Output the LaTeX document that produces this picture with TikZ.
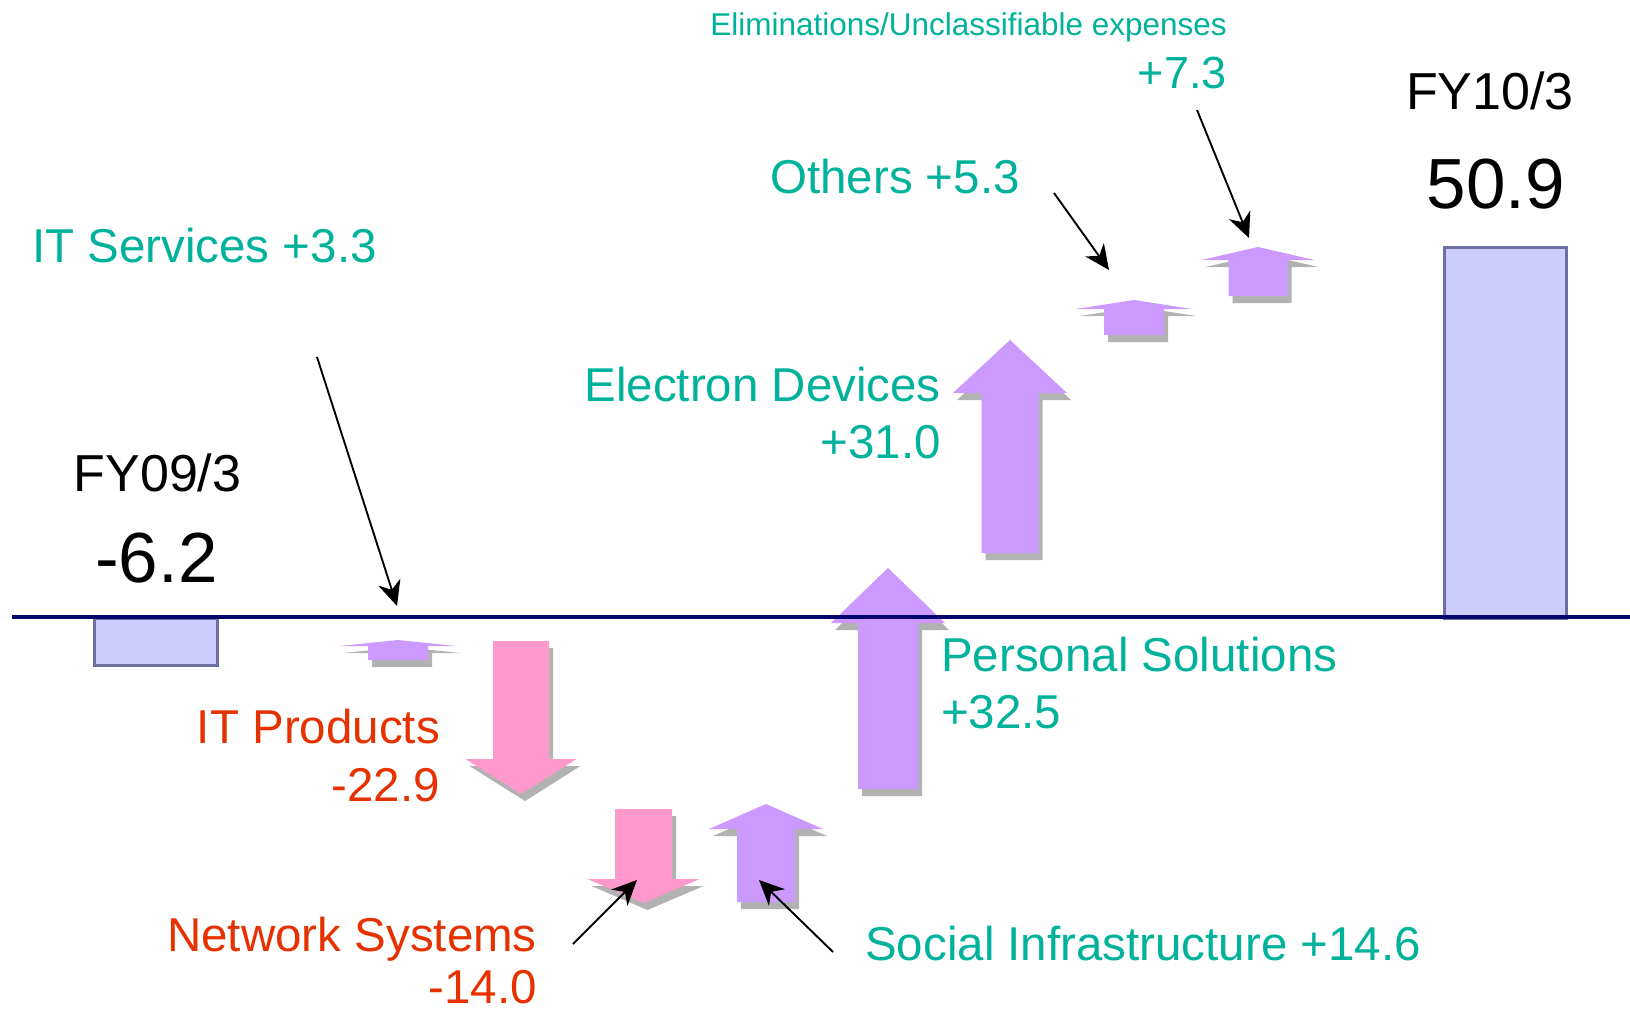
\documentclass[tikz,border=0pt]{standalone}
\usepackage{fontspec}
\setmainfont{Liberation Sans}
\usetikzlibrary{arrows.meta}
\definecolor{teal2}{RGB}{0,178,155}
\definecolor{red2}{RGB}{230,50,0}
\definecolor{purp}{RGB}{204,153,255}
\definecolor{pinkA}{RGB}{255,153,204}
\definecolor{shad}{RGB}{178,178,178}
\definecolor{barfill}{RGB}{204,204,255}
\definecolor{bardraw}{RGB}{110,110,160}
\definecolor{navyL}{RGB}{5,5,110}
% up arrow: cx, tip y, head base y, head half width, shaft half width, bottom y, colour
\newcommand{\bArrUp}[7]{%
  \fill[shad,shift={(4,7)}] (#1,#2) -- ({#1+#4},#3) -- ({#1+#5},#3) -- ({#1+#5},#6) -- ({#1-#5},#6) -- ({#1-#5},#3) -- ({#1-#4},#3) -- cycle;
  \fill[#7] (#1,#2) -- ({#1+#4},#3) -- ({#1+#5},#3) -- ({#1+#5},#6) -- ({#1-#5},#6) -- ({#1-#5},#3) -- ({#1-#4},#3) -- cycle;
}
\tikzset{
  lbl/.style={inner sep=0pt, font=\fontsize{47.5}{57}\selectfont},
  tlbl/.style={lbl, text=teal2},
  rlbl/.style={lbl, text=red2},
  klbl/.style={inner sep=0pt, text=black},
  conn/.style={line width=1.9pt, -{Stealth[length=25pt,width=23pt,inset=8pt]}},
  bar/.style={fill=barfill, draw=bardraw, line width=2.5pt},
}
\begin{document}
\begin{tikzpicture}[x=1pt,y=-1pt]
\useasboundingbox (0,0) rectangle (1630,1011);
\fill[white] (0,0) rectangle (1630,1011);

% block arrows (waterfall)
\bArrUp{398}{640}{646}{58}{30}{660}{purp}
\bArrUp{521}{794}{759}{55.5}{28}{641}{pinkA}
\bArrUp{643.5}{903}{879}{56}{28.5}{809}{pinkA}
\bArrUp{766}{804}{829}{57}{29}{902}{purp}
\bArrUp{888}{568}{623}{57}{30}{789}{purp}
\bArrUp{1010}{340}{393}{57}{28.5}{553}{purp}
\bArrUp{1134}{300}{309}{58}{30}{335}{purp}
\bArrUp{1258}{247}{260}{56.5}{29.5}{296}{purp}

% bars
\node[bar, inner sep=0pt, minimum width=123pt, minimum height=47pt, anchor=north west] (bar09) at (93,617) {};
\node[bar, inner sep=0pt, minimum width=122pt, minimum height=371pt, anchor=north west] (bar10) at (1443,246) {};

% zero line
\coordinate (zl) at (12,617);
\coordinate (zr) at (1630,617);
\draw[navyL, line width=3.8pt] (zl) -- (zr);

% totals
\node[klbl, anchor=base, font=\fontsize{52}{60}\selectfont] (fy09) at (157.5,491) {FY09/3};
\node[klbl, anchor=base, font=\fontsize{71}{80}\selectfont] (v09) at (156.5,582) {-6.2};
\node[klbl, anchor=base, font=\fontsize{52}{60}\selectfont] (fy10) at (1490,110) {FY10/3};
\node[klbl, anchor=base, font=\fontsize{71}{80}\selectfont] (v10) at (1496,209) {50.9};

% labels
\node[tlbl, anchor=base west] (its) at (32,262) {IT Services +3.3};
\node[rlbl, anchor=base east] (itp) at (440,743) {IT Products};
\node[rlbl, anchor=base east] (itpv) at (440,801) {-22.9};
\node[rlbl, anchor=base east] (nws) at (537,951) {Network Systems};
\node[rlbl, anchor=base east, text depth=0pt] (nwsv) at (537,1003) {-14.0};
\node[tlbl, anchor=base west] (soc) at (865,960) {Social Infrastructure +14.6};
\node[tlbl, anchor=base west] (pers) at (941,671) {Personal Solutions};
\node[tlbl, anchor=base west] (persv) at (941,728) {+32.5};
\node[tlbl, anchor=base east] (ele) at (941,401) {Electron Devices};
\node[tlbl, anchor=base east] (elev) at (941,458) {+31.0};
\node[tlbl, anchor=base west] (oth) at (770,194) {Others +5.3};
\node[tlbl, anchor=base east, font=\fontsize{31.5}{36}\selectfont] (elim) at (1227,36) {Eliminations/Unclassifiable expenses};
\node[tlbl, anchor=base east, font=\fontsize{45}{52}\selectfont] (elimv) at (1227,89) {+7.3};

% connectors
\coordinate (itsA) at (317,357);  \coordinate (itsB) at (397,606);
\coordinate (nwsA) at (573,944);  \coordinate (nwsB) at (637,880);
\coordinate (socA) at (833,952);  \coordinate (socB) at (759,880);
\coordinate (othA) at (1054,193); \coordinate (othB) at (1109,270);
\coordinate (elimA) at (1197,110); \coordinate (elimB) at (1249,238);
\draw[conn] (itsA) -- (itsB);
\draw[conn] (nwsA) -- (nwsB);
\draw[conn] (socA) -- (socB);
\draw[conn] (othA) -- (othB);
\draw[conn] (elimA) -- (elimB);
\end{tikzpicture}
\end{document}
